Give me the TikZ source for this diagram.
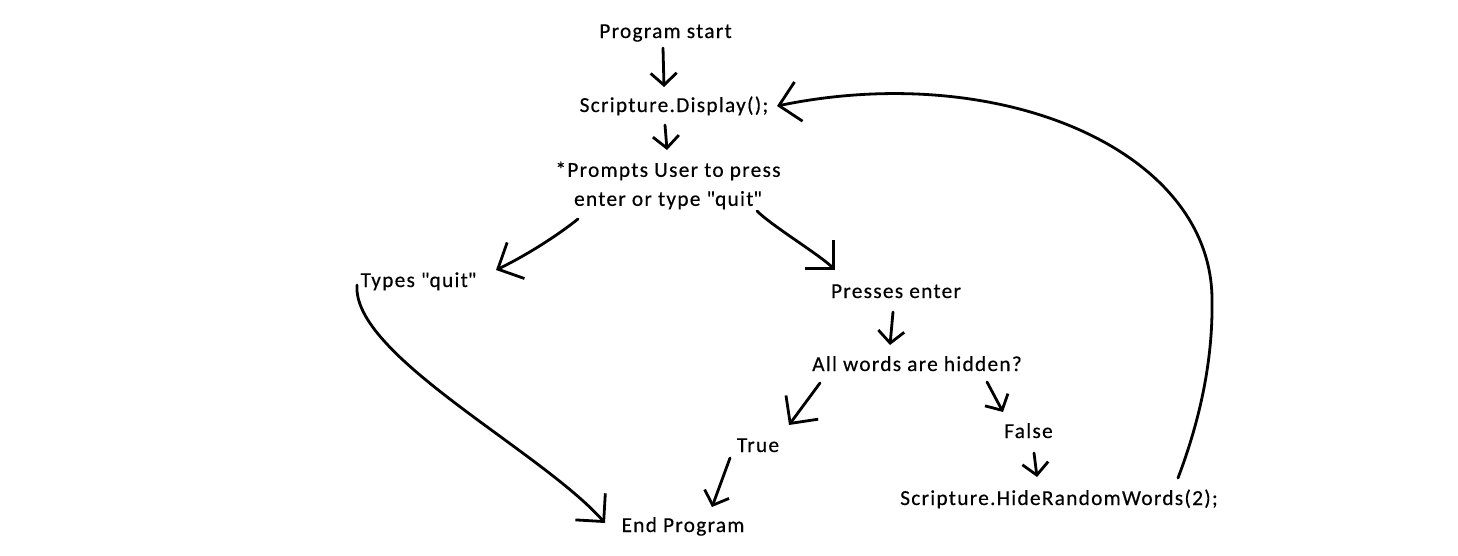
\documentclass[tikz,border=0pt]{standalone}
\usepackage{fontspec}
\setmainfont[LetterSpace=6,FakeBold=0.4]{Carlito}
\usetikzlibrary{arrows.meta,calc}

\begin{document}
\begin{tikzpicture}[x=1pt,y=-1pt]
\tikzset{
  flowtext/.style={inner sep=0pt,anchor=base,font=\fontsize{21.33}{29}\selectfont},
  handline/.style={draw=black,line width=2.8pt,line cap=round,line join=round},
  flowarrow/.style={handline,-{Straight Barb[length=12pt,width=26pt]}},
  bigarrow/.style={handline,-{Straight Barb[length=20pt,width=40pt]}}
}
\useasboundingbox (0,0) rectangle (1458,555);
\node[flowtext] (n_start) at (665.5,38) {Program start};
\node[flowtext] (n_disp) at (674,112) {Scripture.Display();};
\node[flowtext,anchor=north,align=center] (n_prompt) at (668,161.5) {*Prompts User to press\\enter or type \textquotedbl quit\textquotedbl};
\node[flowtext] (n_quit) at (418.5,287) {Types \textquotedbl quit\textquotedbl};
\node[flowtext] (n_enter) at (896,298) {Presses enter};
\node[flowtext] (n_hidden) at (917,371) {All words are hidden?};
\node[flowtext] (n_true) at (758,452) {True};
\node[flowtext] (n_false) at (1028.5,438) {False};
\node[flowtext] (n_hide) at (1059,505) {Scripture.HideRandomWords(2);};
\node[flowtext] (n_end) at (683,532) {End Program};
\draw[flowarrow] ($(n_start.base)+(-2.5,10)$) -- ($(n_disp.base)+(-10,-25)$);
\draw[flowarrow] ($(n_disp.base)+(-9,13)$) -- ($(n_prompt.north)+(-1,-11.5)$);
\draw[bigarrow] ($(n_prompt.north)+(-90,57.5)$) .. controls +(-25,20) and +(25,-12) .. ($(n_quit.base)+(77.5,-17)$);
\draw[bigarrow] ($(n_prompt.north)+(89,49.5)$) .. controls +(15,15) and +(-15,-15) .. ($(n_enter.base)+(-61,-28)$);
\draw[flowarrow] ($(n_enter.base)+(-3,14)$) -- ($(n_hidden.base)+(-27,-26)$);
\draw[bigarrow] ($(n_hidden.base)+(-97,12)$) -- ($(n_true.base)+(31,-27)$);
\draw[flowarrow] ($(n_hidden.base)+(70,11)$) -- ($(n_false.base)+(-25.5,-26)$);
\draw[flowarrow] ($(n_false.base)+(5.5,15)$) -- ($(n_hide.base)+(-22,-28)$);
\draw[flowarrow] ($(n_true.base)+(-28,6)$) -- ($(n_end.base)+(29,-25)$);
\draw[bigarrow] ($(n_quit.base)+(-61.5,-2)$) .. controls +(-5,70) and +(-65,-73) .. ($(n_end.base)+(-78,-9)$);
\draw[bigarrow] ($(n_hide.base)+(119,-27)$) .. controls +(22,-58) and +(1,60) .. (1212,300)
  .. controls +(0,-150) and +(223,-46) .. ($(n_disp.base)+(103,-6)$);
\end{tikzpicture}
\end{document}
